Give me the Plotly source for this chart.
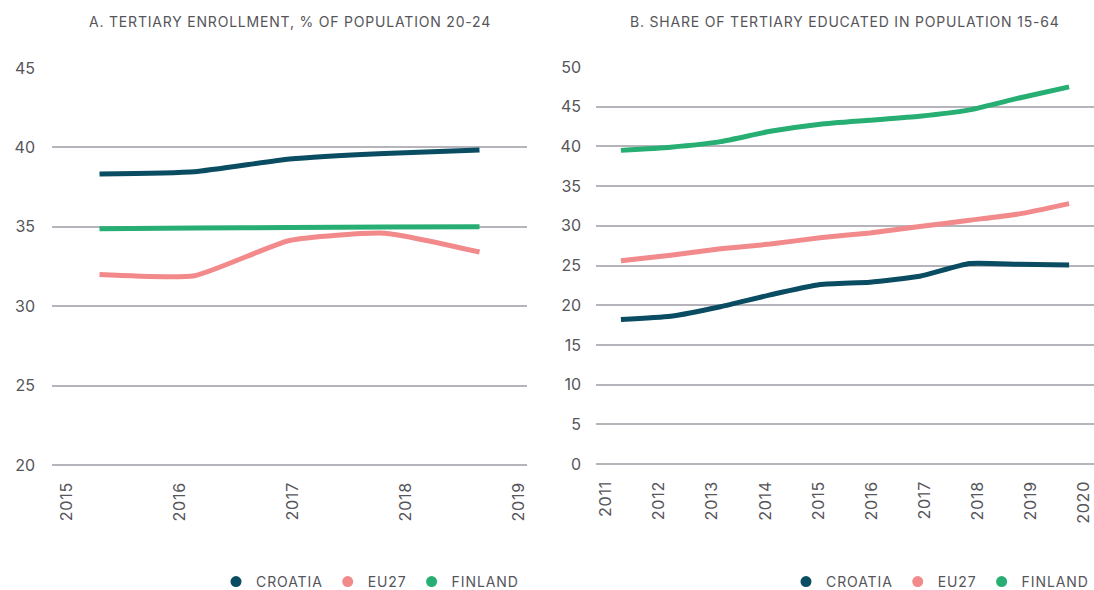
import plotly.graph_objects as go

# ---------------- data ----------------
years_a = [2015, 2016, 2017, 2018, 2019]
croatia_a = [38.33, 38.47, 39.27, 39.62, 39.83]
eu27_a = [31.99, 31.92, 34.14, 34.60, 33.41]
finland_a = [34.87, 34.92, 34.96, 34.98, 35.01]

years_b = [2011, 2012, 2013, 2014, 2015, 2016, 2017, 2018, 2019, 2020]
croatia_b = [18.2, 18.6, 19.8, 21.3, 22.6, 22.9, 23.65, 25.25, 25.15, 25.05]
eu27_b = [25.6, 26.3, 27.1, 27.7, 28.5, 29.1, 29.9, 30.7, 31.5, 32.8]
finland_b = [39.5, 39.9, 40.6, 41.9, 42.8, 43.3, 43.8, 44.6, 46.1, 47.5]

series_names = ["CROATIA", "EU27", "FINLAND"]
colors = ["#0A4C61", "#F2898B", "#27AE72"]

title_a = "A. TERTIARY ENROLLMENT, % OF POPULATION 20-24"
title_b = "B. SHARE OF TERTIARY EDUCATED IN POPULATION 15-64"

FONT = "Inter, Open Sans, sans-serif"
TXT = "#55555a"
GRID = "#b4b4ba"

W, H = 1094, 590


def spaced(s, ls):
    return '<span style="letter-spacing:%spx">%s</span>' % (ls, s)


fig = go.Figure()

panels = [
    (years_a, [croatia_a, eu27_a, finland_a], "x", "y", "legend"),
    (years_b, [croatia_b, eu27_b, finland_b], "x2", "y2", "legend2"),
]
for yrs, vals, xa, ya, lg in panels:
    for name, v, c in zip(series_names, vals, colors):
        fig.add_trace(go.Scatter(
            x=yrs, y=v, mode="lines", xaxis=xa, yaxis=ya,
            line=dict(color=c, width=5, shape="spline", smoothing=0.5),
            showlegend=False, hoverinfo="x+y", name=name))
    for name, c in zip(series_names, colors):
        fig.add_trace(go.Scatter(
            x=[None], y=[None], mode="markers", xaxis=xa, yaxis=ya,
            marker=dict(color=c, size=11, symbol="circle"),
            name=spaced(name, 0.9), legend=lg, showlegend=True))

# tick-label axes (years spread across the full plot width)
fig.add_trace(go.Scatter(x=[years_a[0]], y=[None], xaxis="x3", yaxis="y",
                         showlegend=False, hoverinfo="skip"))
fig.add_trace(go.Scatter(x=[years_b[0]], y=[None], xaxis="x4", yaxis="y2",
                         showlegend=False, hoverinfo="skip"))

# pixel geometry of the two plot areas
ppu_a = (465 - 68) / 25.0
ppu_b = (464 - 67) / 50.0
lo_a, hi_a = 19.7, 45.02
lo_b, hi_b = -0.6, 50.04
dom_a = [52 / W, 527 / W]
dom_b = [596 / W, 1.0]
ydom_a = [1 - (465 + (20 - lo_a) * ppu_a) / H, 1 - (68 - (hi_a - 45) * ppu_a) / H]
ydom_b = [1 - (464 + (0 - lo_b) * ppu_b) / H, 1 - (67 - (hi_b - 50) * ppu_b) / H]


def px_range(first, last, left_pad, step, right_pad):
    return [first - left_pad / step, last + right_pad / step]


hidden = dict(showgrid=False, showticklabels=False, zeroline=False,
              showline=False, ticks="", automargin=False)
tick_x = dict(tickangle=-90, showgrid=False, zeroline=False, showline=False,
              ticks="", automargin=False, ticklabeloverflow="allow",
              tickfont=dict(size=16, color=TXT))
tick_y = dict(dtick=5, tick0=0, showgrid=True, gridcolor=GRID, gridwidth=1.5,
              zeroline=False, showline=False, ticks="", automargin=False,
              tickfont=dict(size=16, color=TXT))
leg = dict(orientation="h", yref="container", yanchor="middle",
           y=(H - 582) / H, xref="paper", font=dict(size=14, color=TXT),
           itemwidth=30, bgcolor="rgba(0,0,0,0)", tracegroupgap=0)

fig.update_layout(
    width=W, height=H,
    margin=dict(l=0, r=0, t=0, b=0, autoexpand=False),
    paper_bgcolor="white", plot_bgcolor="white",
    font=dict(family=FONT, color=TXT),
    xaxis=dict(domain=dom_a, anchor="y",
               range=[years_a[0] - 0.5, years_a[-1] + 0.5], **hidden),
    xaxis2=dict(domain=dom_b, anchor="y2",
                range=[years_b[0] - 0.5, years_b[-1] + 0.5], **hidden),
    xaxis3=dict(domain=dom_a, anchor="y", overlaying="x",
                range=px_range(years_a[0], years_a[-1], 15, 113, 8),
                ticklabelstandoff=int(13 - (20 - lo_a) * ppu_a),
                tickvals=years_a, ticktext=[spaced(v, 0.8) for v in years_a], **tick_x),
    xaxis4=dict(domain=dom_b, anchor="y2", overlaying="x2",
                range=px_range(years_b[0], years_b[-1], 10, 53.2, 10),
                ticklabelstandoff=int(13 - (0 - lo_b) * ppu_b),
                tickvals=years_b, ticktext=[spaced(v, 0.8) for v in years_b], **tick_x),
    yaxis=dict(domain=ydom_a, anchor="x", range=[lo_a, hi_a],
               ticklabelstandoff=16, **tick_y),
    yaxis2=dict(domain=ydom_b, anchor="x2", range=[lo_b, hi_b],
                ticklabelstandoff=14, **tick_y),
    legend=dict(xanchor="right", x=524 / W, **leg),
    legend2=dict(xanchor="right", x=1.0, **leg),
    annotations=[
        dict(text=spaced(title_a, 0.8), x=(dom_a[0] + dom_a[1]) / 2, y=1 - 22 / H,
             xref="paper", yref="paper", showarrow=False,
             font=dict(size=14, color=TXT), xanchor="center", yanchor="middle"),
        dict(text=spaced(title_b, 0.8), x=(dom_b[0] + dom_b[1]) / 2, y=1 - 22 / H,
             xref="paper", yref="paper", showarrow=False,
             font=dict(size=14, color=TXT), xanchor="center", yanchor="middle"),
    ],
)

fig.write_html(
    "out.html",
    config={"displayModeBar": False},
    post_script="document.body.style.margin='0';document.body.style.overflow='hidden';",
)
